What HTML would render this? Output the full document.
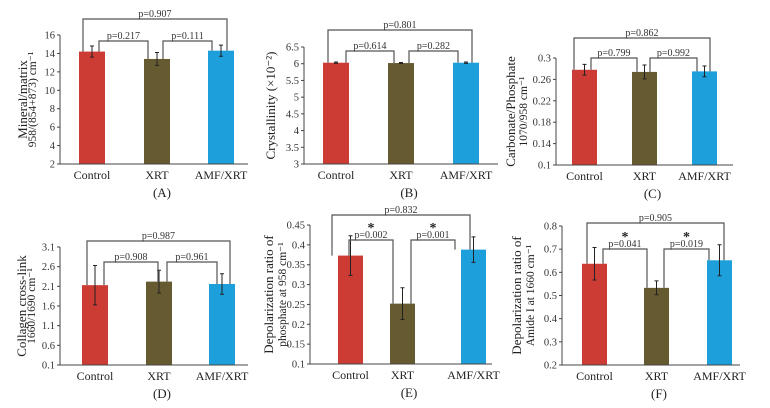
<!DOCTYPE html>
<html><head><meta charset="utf-8"><style>
body{margin:0;background:#fff;width:770px;height:403px;overflow:hidden}
svg{font-family:"Liberation Serif",serif}
</style></head><body>
<svg id="c" width="770" height="403"></svg>
<script>
const categories=["Control","XRT","AMF/XRT"];
const valuesA=[14.2,13.4,14.3]; const errA=[0.6,0.7,0.6];
const valuesB=[6.03,6.02,6.03]; const errB=[0.02,0.015,0.02];
const valuesC=[0.278,0.274,0.275]; const errC=[0.01,0.013,0.01];
const valuesD=[2.13,2.22,2.16]; const errD=[0.5,0.29,0.26];
const valuesE=[0.373,0.252,0.388]; const errE=[0.05,0.04,0.032];
const valuesF=[0.637,0.533,0.652]; const errF=[0.07,0.03,0.067];
const ticksA=[2,4,6,8,10,12,14,16];
const ticksB=[3,3.5,4,4.5,5,5.5,6,6.5];
const ticksC=[0.1,0.14,0.18,0.22,0.26,0.3];
const ticksD=[0.1,0.6,1.1,1.6,2.1,2.6,3.1];
const ticksE=[0.1,0.15,0.2,0.25,0.3,0.35,0.4,0.45];
const ticksF=[0.2,0.3,0.4,0.5,0.6,0.7,0.8];
const pA=["p=0.217","p=0.111","p=0.907"],pB=["p=0.614","p=0.282","p=0.801"],pC=["p=0.799","p=0.992","p=0.862"];
const pD=["p=0.908","p=0.961","p=0.987"],pE=["p=0.002","p=0.001","p=0.832"],pF=["p=0.041","p=0.019","p=0.905"];
const colors=["#cc3b34","#665a31","#1d9fdc"];
const panels=[
{id:"a",v:valuesA,e:errA,t:ticksA,p:pA,ax:60,bot:164,top:35,end:248,bars:[79,144,208],bw:26,ob:[83,227,19],ib:[[99,148,41],[163,212,41]],lab:"(A)",yl:["Mineral/matrix","958/(854+873) cm\u207B\u00B9"],ylx:[27,36],star:false},
{id:"b",v:valuesB,e:errB,t:ticksB,p:pB,ax:304,bot:164,top:47,end:498,bars:[323,388,453],bw:26,ob:[328,472,30],ib:[[346,394,51],[409,458,51]],lab:"(B)",yl:["Crystallinity (\u00D710\u207B\u00B2)"],ylx:[275],star:false},
{id:"c",v:valuesC,e:errC,t:ticksC,p:pC,ax:556,bot:165,top:58,end:733,bars:[572,632,692],bw:25,ob:[574,710,38],ib:[[591,637,58],[650,697,58]],lab:"(C)",yl:["Carbonate/Phosphate","1070/958 cm\u207B\u00B9"],ylx:[515,527],star:false},
{id:"d",v:valuesD,e:errD,t:ticksD,p:pD,ax:60,bot:365,top:247,end:248,bars:[82,146,209],bw:26,ob:[87,230,241],ib:[[104,158,262],[167,217,262]],lab:"(D)",yl:["Collagen cross-link","1660/1690 cm\u207B\u00B9"],ylx:[26,35],star:false},
{id:"e",v:valuesE,e:errE,t:ticksE,p:pE,ax:310,bot:364,top:225,end:492,bars:[338,390,461],bw:25,ob:[332,470,215],ib:[[349,393,240],[411,455,240]],lab:"(E)",yl:["Depolarization ratio of","phosphate at 958 cm\u207B\u00B9"],ylx:[273,286],star:true},
{id:"f",v:valuesF,e:errF,t:ticksF,p:pF,ax:562,bot:365,top:226,end:740,bars:[582,644,707],bw:25,ob:[587,724,223],ib:[[603,647,249],[664,709,249]],lab:"(F)",yl:["Depolarization ratio of","Amide I at 1660 cm\u207B\u00B9"],ylx:[521,534],star:true}
];
const svg=document.getElementById('c');const NS="http://www.w3.org/2000/svg";
function mk(tag,attrs,parent){const el=document.createElementNS(NS,tag);for(const k in attrs)el.setAttribute(k,attrs[k]);(parent||svg).appendChild(el);return el;}
panels.forEach(P=>{
 const g=mk('g',{});
 
 
 const t0=P.t[0],t1=P.t[P.t.length-1];
 const y=v=>P.bot-(v-t0)/(t1-t0)*(P.bot-P.top);
 const cx=i=>P.bars[i]+P.bw/2;
 P.v.forEach((v,i)=>{
  const r=mk('rect',{x:P.bars[i],y:y(v),width:P.bw,height:P.bot-y(v),fill:colors[i]},g);
  
  
  const e=P.e[i];
  const eb=mk('path',{d:`M${cx(i)},${y(v+e)}V${y(v-e)}M${cx(i)-2},${y(v+e)}h4M${cx(i)-2},${y(v-e)}h4`,stroke:'#222','stroke-width':1,fill:'none'},g);
  
  
  const xl=mk('text',{x:cx(i),y:P.bot+15,'text-anchor':'middle','font-size':12,fill:'#222'},g);xl.textContent=categories[i];
  
  
 });
 const ax=mk('path',{d:`M${P.ax},${P.top}V${P.bot}H${P.end}`,stroke:'#444','stroke-width':1,fill:'none'},g);
 
 
 P.t.forEach(t=>{
  mk('line',{x1:P.ax-3,x2:P.ax,y1:y(t),y2:y(t),stroke:'#444'},g);
  const tl=mk('text',{x:P.ax-5,y:y(t)+3.5,'text-anchor':'end','font-size':10.5,fill:'#333'},g);tl.textContent=String(t);
  
  
 });
 const mid=(P.top+P.bot)/2;
 P.yl.forEach((s,k)=>{
  const yt=mk('text',{x:P.ylx[k],y:mid,'text-anchor':'middle','font-size':k==0?13:11.5,fill:'#222',transform:`rotate(-90 ${P.ylx[k]} ${mid})`},g);yt.textContent=s;
  
  
 });
 const pl=mk('text',{x:(P.ax+P.end)/2+8,y:P.bot+33,'text-anchor':'middle','font-size':13,fill:'#222'},g);pl.textContent=P.lab;
 
 
 const br=[[0,1,P.ib[0]],[1,2,P.ib[1]],[0,2,P.ob]];
 br.forEach((b,k)=>{
  const [i,j,[x1,x2,by]]=b;
  const y1=y(P.v[i]),y2=y(P.v[j]);
  const bp=mk('path',{d:`M${x1},${y1}V${by}H${x2}V${y2}`,stroke:'#555','stroke-width':1.2,fill:'none'},g);
  
  
  const pt=mk('text',{x:(x1+x2)/2,y:by-2,'text-anchor':'middle','font-size':10,fill:'#333'},g);pt.textContent=P.p[k];
  
  
  if(P.star&&k<2){const st=mk('text',{x:(x1+x2)/2,y:by-8,'text-anchor':'middle','font-size':14,'font-weight':'bold',fill:'#222'},g);st.textContent='*';
   
   }
 });
});
</script>
</body></html>
